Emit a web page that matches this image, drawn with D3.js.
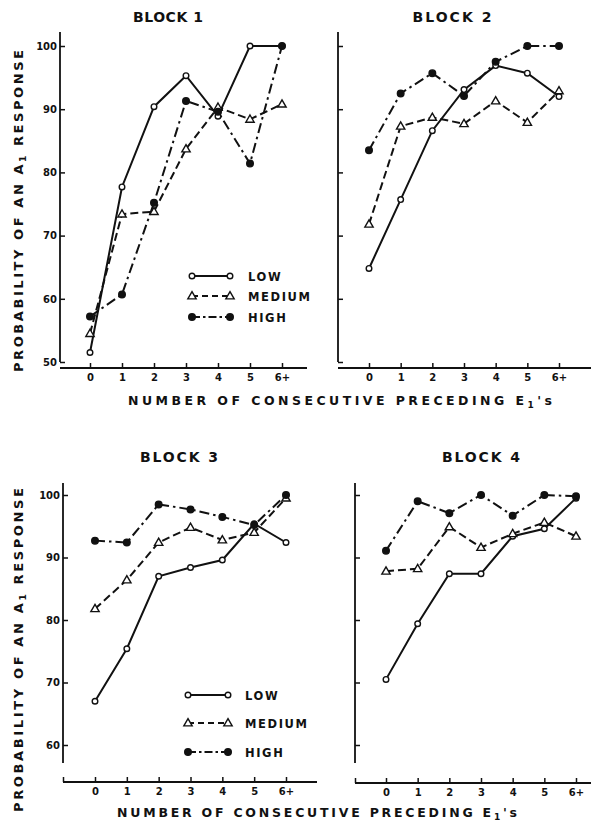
<!DOCTYPE html>
<html lang="en">
<head>
	<meta charset="utf-8">
	<title>Probability of an A1 response by block</title>
	<style>
		body { margin: 0; background: #fff; }
		text { font-family: "DejaVu Sans", sans-serif; font-weight: bold; fill: #111; }
		.tick text { font-size: 10px; }
	</style>
</head>
<body>
	<div id="chart"></div>

	<script src="https://cdn.jsdelivr.net/npm/d3@7"></script>
	<script>

		// data
		const categories = ["0", "1", "2", "3", "4", "5", "6+"];
		const seriesNames = ["LOW", "MEDIUM", "HIGH"];
		const blockTitles = ["BLOCK 1", "BLOCK 2", "BLOCK 3", "BLOCK 4"];
		const yTicksTop = [50, 60, 70, 80, 90, 100];
		const yTicksBottom = [60, 70, 80, 90, 100];

		const block1Low    = [51.5, 77.7, 90.4, 95.3, 88.9, 100, 100];
		const block1Medium = [54.5, 73.4, 73.8, 83.7, 90.3, 88.4, 90.8];
		const block1High   = [57.2, 60.7, 75.2, 91.3, 89.6, 81.4, 100];

		const block2Low    = [64.8, 75.7, 86.6, 93.1, 96.9, 95.7, 92.0];
		const block2Medium = [71.8, 87.3, 88.7, 87.7, 91.3, 87.9, 92.9];
		const block2High   = [83.5, 92.5, 95.7, 92.1, 97.5, 100, 100];

		const block3Low    = [67.0, 75.4, 87.0, 88.4, 89.6, 95.4, 92.4];
		const block3Medium = [81.8, 86.4, 92.4, 94.8, 92.8, 94.0, 99.5];
		const block3High   = [92.7, 92.4, 98.5, 97.7, 96.5, 95.2, 100];

		const block4Low    = [70.5, 79.4, 87.4, 87.4, 93.4, 94.6, 99.5];
		const block4Medium = [87.8, 88.2, 94.9, 91.6, 93.8, 95.6, 93.4];
		const block4High   = [91.1, 99.0, 97.1, 100, 96.7, 100, 99.8];

		const xTitle = "NUMBER OF CONSECUTIVE PRECEDING E";
		const yTitle = "PROBABILITY OF AN A";

		// line / marker styles per series
		const styles = [
			{ dash: null,         marker: "circle",   r: 2.8, fill: "#fff" },
			{ dash: "8,4",        marker: "triangle", r: 0,   fill: "#fff" },
			{ dash: "10,4,2.5,4", marker: "circle",   r: 3.3, fill: "#111" }
		];

		// panel layout
		const panels = [
			{ title: blockTitles[0], titleX: 168, titleY: 22, titleLen: 70,
			  series: [block1Low, block1Medium, block1High], ticks: yTicksTop, labels: true,
			  xr: [90, 282], yd: [50, 100], yr: [362, 46], axisX: 60, yTop: 32, yBot: 362,
			  xAxisY: 368, xLine: [60, 307], endTick: false,
			  legend: { x1: 192, x2: 230, tx: 248, ys: [276, 296, 317] } },
			{ title: blockTitles[1], titleX: 452, titleY: 22, titleLen: 79,
			  series: [block2Low, block2Medium, block2High], ticks: yTicksTop, labels: false,
			  xr: [369, 559], yd: [50, 100], yr: [362, 46], axisX: 338, yTop: 32, yBot: 362,
			  xAxisY: 368, xLine: [338, 591], endTick: false, legend: null },
			{ title: blockTitles[2], titleX: 179, titleY: 462, titleLen: 78,
			  series: [block3Low, block3Medium, block3High], ticks: yTicksBottom, labels: true,
			  xr: [95, 286], yd: [60, 100], yr: [745, 495], axisX: 63, yTop: 483, yBot: 763,
			  xAxisY: 782, xLine: [63, 317], endTick: true,
			  legend: { x1: 188, x2: 228, tx: 245, ys: [695, 723, 752] } },
			{ title: blockTitles[3], titleX: 481, titleY: 462, titleLen: 78,
			  series: [block4Low, block4Medium, block4High], ticks: yTicksBottom, labels: false,
			  xr: [386, 576], yd: [60, 100], yr: [745, 495], axisX: 355, yTop: 483, yBot: 763,
			  xAxisY: 783, xLine: [355, 591], endTick: true, legend: null }
		];

		const svg = d3.select("#chart")
			.append("svg")
			.attr("width", 591)
			.attr("height", 822);

		function drawMarker(g, s, cx, cy) {
			if (s.marker === "triangle") {
				g.append("path")
					.attr("d", d3.symbol().type(d3.symbolTriangle).size(30)())
					.attr("transform", "translate(" + cx + "," + (cy + 0.5) + ")")
					.attr("fill", "#fff")
					.attr("stroke", "#111")
					.attr("stroke-width", 1.4);
			} else {
				g.append("circle")
					.attr("cx", cx)
					.attr("cy", cy)
					.attr("r", s.r)
					.attr("fill", s.fill)
					.attr("stroke", "#111")
					.attr("stroke-width", 1.4);
			}
		}

		panels.forEach(function(p) {
			const x = d3.scalePoint().domain(categories).range(p.xr);
			const y = d3.scaleLinear().domain(p.yd).range(p.yr);
			const g = svg.append("g");

			// title
			g.append("text")
				.attr("x", p.titleX)
				.attr("y", p.titleY)
				.attr("text-anchor", "middle")
				.attr("font-size", 14)
				.attr("textLength", p.titleLen)
				.attr("lengthAdjust", "spacing")
				.text(p.title);

			// y axis line
			g.append("line")
				.attr("x1", p.axisX).attr("x2", p.axisX)
				.attr("y1", p.yTop).attr("y2", p.yBot)
				.attr("stroke", "#111").attr("stroke-width", 1.8);

			// y ticks pointing inwards
			const yAxis = g.append("g")
				.attr("transform", "translate(" + p.axisX + ",0)")
				.call(d3.axisRight(y).tickValues(p.ticks).tickSize(5).tickFormat(""));
			yAxis.select(".domain").remove();
			yAxis.selectAll(".tick line").attr("stroke", "#111").attr("stroke-width", 1.5);

			if (p.labels) {
				const yLab = g.append("g")
					.attr("transform", "translate(" + p.axisX + ",0)")
					.call(d3.axisLeft(y).tickValues(p.ticks).tickSize(0).tickPadding(3));
				yLab.select(".domain").remove();
				yLab.selectAll(".tick text").attr("font-size", 10.5).attr("fill", "#111");
			}

			// x axis
			g.append("line")
				.attr("x1", p.xLine[0]).attr("x2", p.xLine[1])
				.attr("y1", p.xAxisY).attr("y2", p.xAxisY)
				.attr("stroke", "#111").attr("stroke-width", 1.8);
			if (p.endTick) {
				g.append("line")
					.attr("x1", p.xLine[0] + 0.5).attr("x2", p.xLine[0] + 0.5)
					.attr("y1", p.xAxisY).attr("y2", p.xAxisY - 5)
					.attr("stroke", "#111").attr("stroke-width", 1.5);
			}
			const xAxis = g.append("g")
				.attr("transform", "translate(0," + p.xAxisY + ")")
				.call(d3.axisBottom(x).tickSize(-5).tickPadding(6));
			xAxis.select(".domain").remove();
			xAxis.selectAll(".tick line").attr("stroke", "#111").attr("stroke-width", 1.5);
			xAxis.selectAll(".tick text").attr("font-size", 10.5).attr("fill", "#111");

			// lines
			const line = d3.line()
				.x(function(d, i) { return x(categories[i]); })
				.y(function(d) { return y(d); });

			p.series.forEach(function(values, k) {
				g.append("path")
					.datum(values)
					.attr("fill", "none")
					.attr("stroke", "#111")
					.attr("stroke-width", 2)
					.attr("stroke-dasharray", styles[k].dash)
					.attr("d", line);
			});

			p.series.forEach(function(values, k) {
				values.forEach(function(v, i) {
					drawMarker(g, styles[k], x(categories[i]), y(v));
				});
			});

			// legend
			if (p.legend) {
				const L = p.legend;
				seriesNames.forEach(function(name, k) {
					g.append("line")
						.attr("x1", L.x1).attr("x2", L.x2)
						.attr("y1", L.ys[k]).attr("y2", L.ys[k])
						.attr("stroke", "#111").attr("stroke-width", 2)
						.attr("stroke-dasharray", k === 0 ? null : (k === 1 ? "6,4" : "8,3,2.5,3"));
					drawMarker(g, styles[k], L.x1, L.ys[k]);
					drawMarker(g, styles[k], L.x2, L.ys[k]);
					g.append("text")
						.attr("x", L.tx)
						.attr("y", L.ys[k] + 5)
						.attr("font-size", 11.5)
						.attr("letter-spacing", 1.6)
						.text(name);
				});
			}
		});

		// axis titles
		function addXTitle(cx, baseline, len) {
			const t = svg.append("text")
				.attr("x", cx)
				.attr("y", baseline)
				.attr("text-anchor", "middle")
				.attr("font-size", 12.5)
				.attr("textLength", len)
				.attr("lengthAdjust", "spacing");
			t.append("tspan").text(xTitle);
			t.append("tspan").attr("dy", 3).attr("font-size", 9).text("1");
			t.append("tspan").attr("dy", -3).text("'s");
		}
		addXTitle(340, 405, 424);
		addXTitle(317, 817, 400);

		function addYTitle(cy, len) {
			const t = svg.append("text")
				.attr("transform", "translate(23," + cy + ") rotate(-90)")
				.attr("text-anchor", "middle")
				.attr("font-size", 13)
				.attr("textLength", len)
				.attr("lengthAdjust", "spacing");
			t.append("tspan").text(yTitle);
			t.append("tspan").attr("dy", 3).attr("font-size", 9).text("1");
			t.append("tspan").attr("dy", -3).text(" RESPONSE");
		}
		addYTitle(211, 322);
		addYTitle(650, 324);

	</script>
</body>
</html>
